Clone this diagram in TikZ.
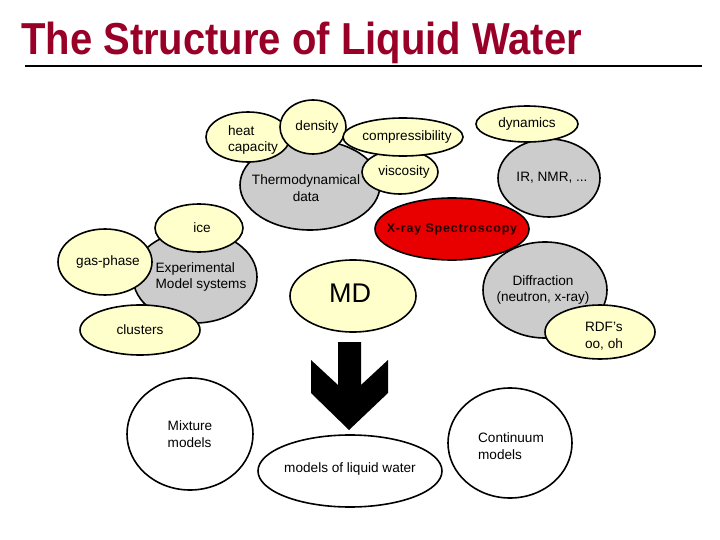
\documentclass[tikz,border=0pt]{standalone}
\usepackage{fontspec}
\setmainfont{Liberation Sans}
\usetikzlibrary{shapes.geometric}
\definecolor{yel}{RGB}{255,255,204}
\definecolor{gry}{RGB}{204,204,204}
\definecolor{xred}{RGB}{232,0,0}
\definecolor{ttl}{RGB}{153,0,40}
\tikzset{
  bub/.style={ellipse, draw=black, line width=1.6pt, inner sep=0pt},
  yb/.style={bub, fill=yel},
  gb/.style={bub, fill=gry},
  wb/.style={bub, fill=white},
  sz/.style 2 args={minimum width=#1pt, minimum height=#2pt},
  txt/.style={font=\fontsize{13.6}{16.5}\selectfont, align=center, inner sep=0pt},
  txtl/.style={txt, align=left},
}
\begin{document}
\begin{tikzpicture}[x=1pt,y=-1pt]
\useasboundingbox (0,0) rectangle (720,540);
% title
\node[anchor=base west, inner sep=0pt, text=ttl, font=\bfseries\fontsize{40}{44}\selectfont] (title) at (21,55) {\scalebox{1}[1.12]{The Structure of Liquid Water}};
\draw[line width=2pt] (25,66) coordinate (l1) -- (702,66) coordinate (l2);
% thermodynamics cluster
\node[gb, sz={140}{90}, label={[txt, xshift=-4pt, yshift=-3pt]center:{Thermodynamical\\data}}] (thermo) at (310,185) {};
\node[yb, sz={84}{50}, label={[txtl, xshift=5pt, yshift=-3pt]center:{heat\\capacity}}] (heat) at (248,137) {};
\node[yb, sz={76}{44}, label={[txt, xshift=4pt]center:viscosity}] (visc) at (400,172) {};
\node[yb, sz={66}{54}, label={[txt, xshift=4pt]center:density}] (dens) at (313,127) {};
\node[yb, sz={120}{38}, label={[txt, xshift=4pt]center:compressibility}] (comp) at (403,137) {};
% dynamics
\node[gb, sz={102}{78}, label={[txt, xshift=3pt]center:{IR, NMR, ...}}] (ir) at (549,178) {};
\node[yb, sz={102}{36}, label={[txt]center:dynamics}] (dyn) at (527,124) {};
% diffraction
\node[gb, sz={124}{96}, label={[txt, xshift=-2pt]center:{Diffraction\\(neutron, x-ray)}}] (diff) at (545,290) {};
\node[yb, sz={110}{54}, label={[txtl, xshift=4pt, yshift=-4pt]center:{RDF's\\oo, oh}}] (rdf) at (600,332) {};
% x-ray
\node[bub, fill=xred, sz={154}{62}, label={[txt, font=\bfseries\fontsize{12.5}{15}\selectfont\addfontfeature{LetterSpace=6.5}, text=black!85!red]center:X-ray Spectroscopy}] (xray) at (452,229) {};
% experimental
\node[gb, sz={124}{92}, label={[txtl, xshift=6pt]center:{Experimental\\Model systems}}] (exp) at (195,277) {};
\node[yb, sz={88}{48}, label={[txt, xshift=3pt]center:ice}] (ice) at (199,228) {};
\node[yb, sz={94}{66}, label={[txt, xshift=3pt]center:gas-phase}] (gas) at (105,262) {};
\node[yb, sz={120}{50}, label={[txt]center:clusters}] (clus) at (140,330) {};
% MD
\node[yb, sz={126}{72}, label={[txt, font=\fontsize{27}{30}\selectfont, xshift=-3pt, yshift=3pt]center:MD}] (md) at (353,296) {};
% block arrow
\fill[black] (338,342) -- (361,342) -- (361,385) -- (388,360) -- (388,393)
  -- (349,430) -- (311,393) -- (311,360) -- (338,385) -- cycle;
% models
\node[wb, sz={126}{112}, label={[txtl]center:{Mixture\\models}}] (mix) at (190,434) {};
\node[wb, sz={184}{72}, label={[txt, yshift=2pt]center:models of liquid water}] (liq) at (350,471) {};
\node[wb, sz={124}{110}, label={[txtl, xshift=1pt, yshift=-3pt]center:{Continuum\\models}}] (cont) at (510,443) {};
\end{tikzpicture}
\end{document}
